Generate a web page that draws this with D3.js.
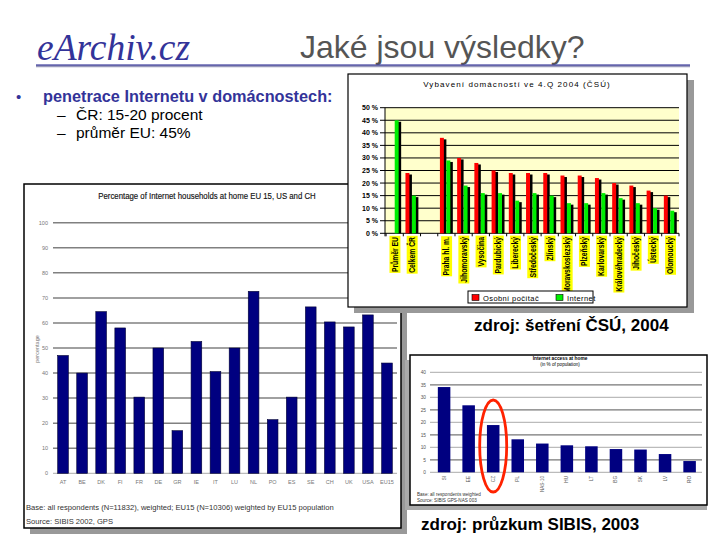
<!DOCTYPE html>
<html><head><meta charset="utf-8">
<script src="https://cdn.jsdelivr.net/npm/d3@7/dist/d3.min.js"></script>
<style>
body{margin:0;background:#fff;}
svg{display:block;font-family:"Liberation Sans",Arial,sans-serif;}
</style></head>
<body><svg id="c" width="720" height="540"></svg>
<script>
// ---------- DATA ----------
const euCategories = ["AT","BE","DK","FI","FR","DE","GR","IE","IT","LU","NL","PO","ES","SE","CH","UK","USA","EU15"];
const euValues     = [47, 40, 64.5, 58, 30.4, 50, 17, 52.6, 40.6, 50, 72.6, 21.4, 30.4, 66.4, 60.4, 58.4, 63.2, 44];
const euTicks      = [0,10,20,30,40,50,60,70,80,90,100];

const czCategories = ["Průměr EU","Celkem ČR","","Praha hl. m.","Jihomoravský","Vysočina","Pardubický","Liberecký","Středočeský","Zlínský","Moravskoslezský","Plzeňský","Karlovarský","Královéhradecký","Jihočeský","Ústecký","Olomoucký"];
const czPC         = [null, 24, null, 38, 30, 28, 25, 24, 24, 24, 23, 23, 22, 20, 19, 17, 15];
const czInternet   = [45, 15, null, 29, 19, 16, 16, 13, 16, 15, 12, 12, 16, 14, 12, 10, 9];
const czTicks      = [0,5,10,15,20,25,30,35,40,45,50];
const czSeries     = ["Osobní počítač","Internet"];

const nasCategories = ["SI","EE","CZ","PL","NAS-10","HU","LT","BG","SK","LV","RO"];
const nasValues     = [34.1, 26.8, 18.9, 13.2, 11.5, 10.8, 10.4, 9.3, 9.1, 7.3, 4.5];
const nasTicks      = [0,5,10,15,20,25,30,35,40];

const svg = d3.select("#c");

// ---------- HEADER ----------
svg.append("text").attr("x",37).attr("y",60)
  .attr("font-family","'Liberation Serif','DejaVu Serif',serif").attr("font-style","italic")
  .attr("font-size",37.5).attr("fill","#333399").text("eArchiv.cz");
svg.append("text").attr("x",300).attr("y",58).attr("font-size",32).attr("fill","#555555").text("Jaké jsou výsledky?");
svg.append("line").attr("x1",36).attr("x2",690).attr("y1",66).attr("y2",66).attr("stroke","#9999bb").attr("stroke-width",2.5);
svg.append("line").attr("x1",36).attr("x2",690).attr("y1",65).attr("y2",65).attr("stroke","#333399").attr("stroke-width",1.2);

svg.append("text").attr("x",16).attr("y",102).attr("font-size",15).attr("fill","#333399").text("•");
svg.append("text").attr("x",43).attr("y",102).attr("font-size",16.3).attr("font-weight","bold").attr("fill","#333399").text("penetrace Internetu v domácnostech:");
[["ČR: 15-20 procent",120],["průměr EU: 45%",138]].forEach(([t,y])=>{
  svg.append("text").attr("x",57).attr("y",y).attr("font-size",15.5).text("–");
  svg.append("text").attr("x",76).attr("y",y).attr("font-size",15.5).text(t);
});

// ---------- LEFT CHART (EU15) ----------
const L = svg.append("g");
L.append("rect").attr("x",30).attr("y",190).attr("width",377).attr("height",344).attr("fill","#999");
L.append("rect").attr("x",24).attr("y",184).attr("width",377).attr("height",344).attr("fill","#fff").attr("stroke","#000").attr("stroke-width",1.5);
L.append("text").attr("x",207).attr("y",199).attr("text-anchor","middle").attr("font-size",8.5).attr("fill","#111")
  .attr("stroke","#111").attr("stroke-width",0.15)
  .attr("transform","translate(207,0) scale(0.92,1) translate(-207,0)")
  .text("Percentage of Internet households at home EU 15, US and CH");
const ex = d3.scaleBand().domain(euCategories).range([53.5,396.5]).paddingInner(0.44).paddingOuter(0.22);
const ey = d3.scaleLinear().domain([0,100]).range([473.3,222.7]);
L.append("g").selectAll("line").data(euTicks.filter(d=>d>0)).join("line")
  .attr("x1",53).attr("x2",397).attr("y1",d=>ey(d)).attr("y2",d=>ey(d))
  .attr("stroke","#808080").attr("stroke-width",1.5);
L.append("line").attr("x1",53).attr("x2",397).attr("y1",ey(0)).attr("y2",ey(0)).attr("stroke","#aaa");
L.append("g").selectAll("text").data(euTicks).join("text")
  .attr("x",48).attr("y",d=>ey(d)+2).attr("text-anchor","end").attr("font-size",5.5).attr("fill","#777").text(d=>d);
L.append("text").attr("transform","translate(39,349) rotate(-90)").attr("text-anchor","middle").attr("font-size",5.5).attr("fill","#777").text("percentage");
L.append("g").selectAll("rect").data(euValues).join("rect")
  .attr("x",(d,i)=>ex(euCategories[i])).attr("width",ex.bandwidth())
  .attr("y",d=>ey(d)).attr("height",d=>ey(0)-ey(d)).attr("fill","#000080").attr("stroke","#000033").attr("stroke-width",0.6);
L.append("g").selectAll("text").data(euCategories).join("text")
  .attr("x",d=>ex(d)+ex.bandwidth()/2).attr("y",484).attr("text-anchor","middle").attr("font-size",5.5).attr("fill","#777").text(d=>d);
L.append("text").attr("x",26).attr("y",510).attr("font-size",7.6).attr("fill","#333")
  .text("Base: all respondents (N=11832), weighted; EU15 (N=10306) weighted by EU15 population");
L.append("text").attr("x",26).attr("y",524).attr("font-size",7.6).attr("fill","#333").text("Source: SIBIS 2002, GPS");

// ---------- TOP RIGHT CHART (CZ) ----------
const C = svg.append("g");
C.append("rect").attr("x",354).attr("y",80).attr("width",340).attr("height",233).attr("fill","#999");
C.append("rect").attr("x",348).attr("y",74).attr("width",339).attr("height",233).attr("fill","#fff").attr("stroke","#000").attr("stroke-width",1.2);
C.append("text").attr("x",517).attr("y",87).attr("text-anchor","middle").attr("font-size",8).attr("letter-spacing",1.1).text("Vybavení domácností ve 4.Q 2004 (ČSÚ)");
const cx = d3.scaleBand().domain(czCategories.map((d,i)=>i)).range([386,679]).paddingInner(0.25).paddingOuter(0.13);
const cy = d3.scaleLinear().domain([0,50]).range([233.3,107.7]);
const sub = d3.scaleBand().domain([0,1]).range([0,cx.bandwidth()]).paddingInner(0);
C.append("rect").attr("x",385).attr("y",cy(50)).attr("width",294).attr("height",cy(0)-cy(50)).attr("fill","#ffffcc");
C.append("g").selectAll("line").data(czTicks).join("line")
  .attr("x1",380).attr("x2",679).attr("y1",d=>cy(d)).attr("y2",d=>cy(d)).attr("stroke","#000").attr("stroke-width",1);
C.append("line").attr("x1",385).attr("x2",385).attr("y1",cy(50)).attr("y2",cy(0)+3).attr("stroke","#000");
C.append("g").selectAll("line").data(czCategories.map((d,i)=>i).concat([17])).join("line")
  .attr("x1",(d)=>d<17?cx(d)-cx.step()*cx.paddingInner()/2:679).attr("x2",(d)=>d<17?cx(d)-cx.step()*cx.paddingInner()/2:679)
  .attr("y1",cy(0)).attr("y2",cy(0)+3).attr("stroke","#000");
C.append("g").selectAll("text").data(czTicks).join("text")
  .attr("x",378).attr("y",d=>cy(d)+2.5).attr("text-anchor","end").attr("font-size",7).attr("font-weight","bold").text(d=>d+" %");
const czColors = ["#ff0000","#00ee00"];
[czPC, czInternet].forEach((vals,s)=>{
  const g = C.append("g");
  vals.forEach((v,i)=>{
    if(v==null) return;
    const x0 = cx(i)+sub(s), w = sub.bandwidth()-2.5;
    g.append("rect").attr("x",x0+2.5).attr("y",cy(v)+1.5).attr("width",w).attr("height",cy(0)-cy(v)-1.5).attr("fill","#000");
    g.append("rect").attr("x",x0).attr("y",cy(v)).attr("width",w).attr("height",cy(0)-cy(v)).attr("fill",czColors[s]);
  });
});
czCategories.forEach((d,i)=>{
  if(!d) return;
  const g = C.append("g").attr("transform",`translate(${cx(i)+cx.bandwidth()/2+3},237) rotate(-90) scale(0.8,1)`);
  const t = g.append("text").attr("x",0).attr("y",0).attr("text-anchor","end").attr("font-size",8.5).attr("font-weight","bold").text(d);
  const bb = t.node().getBBox();
  g.insert("rect","text").attr("x",bb.x-1).attr("y",bb.y-0.5).attr("width",bb.width+2).attr("height",bb.height+1).attr("fill","#ffff00");
});
C.append("rect").attr("x",468).attr("y",291).attr("width",125).attr("height",12).attr("fill","#fff").attr("stroke","#000");
czSeries.forEach((s,i)=>{
  const x = i===0?472:556;
  C.append("rect").attr("x",x).attr("y",294.5).attr("width",7).attr("height",6).attr("fill",czColors[i]).attr("stroke","#000").attr("stroke-width",0.6);
  C.append("text").attr("x",x+11).attr("y",300.5).attr("font-size",7.5).attr("letter-spacing",0.4).text(s);
});

svg.append("text").attr("x",474).attr("y",331).attr("font-size",17).attr("font-weight","bold").text("zdroj: šetření ČSÚ, 2004");

// ---------- BOTTOM RIGHT CHART (NAS) ----------
const N = svg.append("g");
N.append("rect").attr("x",405).attr("y",360).attr("width",302).attr("height",150).attr("fill","#aaa");
N.append("rect").attr("x",410).attr("y",355).attr("width",297).attr("height",150).attr("fill","#fff").attr("stroke","#000").attr("stroke-width",1.5);
N.append("text").attr("x",560).attr("y",360).attr("text-anchor","middle").attr("font-size",4.8).attr("font-weight","bold").text("Internet access at home");
N.append("text").attr("x",560).attr("y",366).attr("text-anchor","middle").attr("font-size",4.6).text("(in % of population)");
const nx = d3.scaleBand().domain(nasCategories).range([431.7,702]).paddingInner(0.49).paddingOuter(0.25);
const ny = d3.scaleLinear().domain([0,40]).range([472.3,372.3]);
N.append("g").selectAll("line").data(nasTicks.filter(d=>d>0)).join("line")
  .attr("x1",430).attr("x2",702).attr("y1",d=>ny(d)).attr("y2",d=>ny(d))
  .attr("stroke",(d,i)=>i%2? "#bbb":"#777").attr("stroke-width",1.3);
N.append("line").attr("x1",430).attr("x2",702).attr("y1",ny(0)).attr("y2",ny(0)).attr("stroke","#aaa");
N.append("g").selectAll("text").data(nasTicks).join("text")
  .attr("x",426).attr("y",d=>ny(d)+1.7).attr("text-anchor","end").attr("font-size",4.8).attr("fill","#555").text(d=>d);
N.append("g").selectAll("rect").data(nasValues).join("rect")
  .attr("x",(d,i)=>nx(nasCategories[i])).attr("width",nx.bandwidth())
  .attr("y",d=>ny(d)).attr("height",d=>ny(0)-ny(d)).attr("fill","#000080");
N.append("g").selectAll("text").data(nasCategories).join("text")
  .attr("transform",d=>`translate(${nx(d)+nx.bandwidth()/2+1.5},476) rotate(-90)`)
  .attr("text-anchor","end").attr("font-size",4.6).attr("fill","#555").text(d=>d);
N.append("text").attr("x",417).attr("y",496).attr("font-size",4.6).attr("fill","#333").text("Base: all respondents weighted");
N.append("text").attr("x",417).attr("y",502).attr("font-size",4.6).attr("fill","#333").text("Source: SIBIS GPS-NAS 003");
N.append("ellipse").attr("cx",nx("CZ")+nx.bandwidth()/2).attr("cy",446).attr("rx",13.5).attr("ry",46)
  .attr("fill","none").attr("stroke","#ff2200").attr("stroke-width",2.8);

svg.append("text").attr("x",421).attr("y",530).attr("font-size",17).attr("font-weight","bold").text("zdroj: průzkum SIBIS, 2003");
</script></body></html>
